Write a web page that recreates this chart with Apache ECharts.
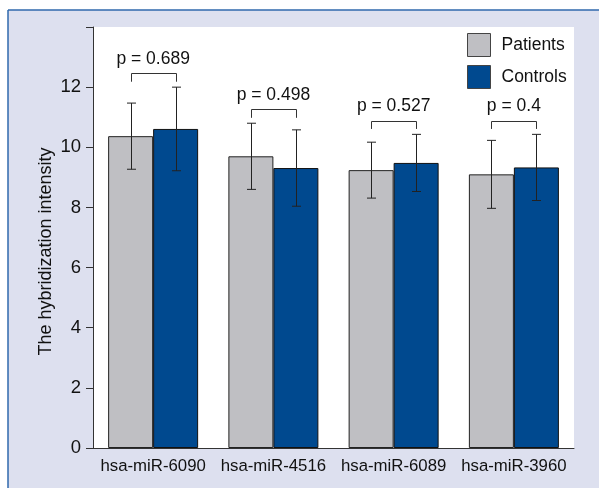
<!DOCTYPE html>
<html>
<head>
<meta charset="utf-8">
<script src="https://cdn.jsdelivr.net/npm/echarts@6/dist/echarts.min.js"></script>
<style>
  html, body { margin: 0; padding: 0; background: #ffffff; }
  #chart { width: 599px; height: 488px; }
</style>
</head>
<body>
<div id="chart"></div>
<script>
// Hybridization intensity of four miRNAs, patients vs controls (mean ± SD)
const categories = ['hsa-miR-6090', 'hsa-miR-4516', 'hsa-miR-6089', 'hsa-miR-3960'];
const patients   = [10.37, 9.70, 9.24, 9.10];
const controls   = [10.61, 9.31, 9.48, 9.33];
const patientsSD = [1.10, 1.10, 0.93, 1.13];
const controlsSD = [1.39, 1.27, 0.95, 1.10];
const pValues    = ['0.689', '0.498', '0.527', '0.4'];
const yTicks     = [0, 2, 4, 6, 8, 10, 12];

const FONT = '"Liberation Sans", Arial, sans-serif';
const GREY = '#bfbfc3';
const BLUE = '#00498f';
const BAR_W = 45;

const chart = echarts.init(document.getElementById('chart'), null, { renderer: 'canvas' });

// error bar with caps, offset to the left (patients) or right (controls) bar
function errorBars(means, sds, side) {
  return {
    type: 'custom',
    silent: true,
    z: 5,
    data: means.map((m, i) => [i, m, sds[i]]),
    renderItem: function (params, api) {
      const i = api.value(0), m = api.value(1), sd = api.value(2);
      const top = api.coord([i, m + sd]);
      const bot = api.coord([i, m - sd]);
      const x = Math.round(top[0] + side * BAR_W / 2) + 0.5;
      const cap = 4.5;
      const style = { stroke: '#222', lineWidth: 1, fill: null };
      return {
        type: 'group',
        children: [
          { type: 'line', shape: { x1: x, y1: top[1], x2: x, y2: bot[1] }, style },
          { type: 'line', shape: { x1: x - cap, y1: top[1], x2: x + cap, y2: top[1] }, style },
          { type: 'line', shape: { x1: x - cap, y1: bot[1], x2: x + cap, y2: bot[1] }, style }
        ]
      };
    }
  };
}

// significance bracket above each pair, with its p value
const bracketSeries = {
  type: 'custom',
  silent: true,
  z: 5,
  data: categories.map((c, i) => [i, Math.max(patients[i] + patientsSD[i], controls[i] + controlsSD[i])]),
  renderItem: function (params, api) {
    const i = api.value(0), peak = api.value(1);
    const h = api.coord([i, peak + 0.46]);
    const d = api.coord([i, peak + 0.18]);
    const xl = Math.round(h[0] - BAR_W / 2) + 0.5, xr = Math.round(h[0] + BAR_W / 2) + 0.5;
    const hy = Math.round(h[1]) + 0.5;
    const style = { stroke: '#333', lineWidth: 1, fill: null };
    return {
      type: 'group',
      children: [
        { type: 'polyline', shape: { points: [[xl, d[1]], [xl, hy], [xr, hy], [xr, d[1]]] }, style },
        {
          type: 'text',
          style: {
            text: 'p = ' + pValues[i],
            x: h[0], y: h[1] - 14,
            align: 'center', verticalAlign: 'middle',
            font: '17.5px ' + FONT, fill: '#111'
          }
        }
      ]
    };
  }
};

const option = {
  backgroundColor: '#ffffff',
  animation: false,
  textStyle: { fontFamily: FONT },
  graphic: [
    { type: 'rect', z: -10, shape: { x: 8, y: 10, width: 591, height: 478 }, style: { fill: '#dde0ef' } },
    { type: 'line', z: -9, shape: { x1: 8, y1: 10, x2: 599, y2: 10 }, style: { stroke: '#2f68ad', lineWidth: 1.5 } },
    { type: 'line', z: -9, shape: { x1: 8, y1: 10, x2: 8, y2: 488 }, style: { stroke: '#2f68ad', lineWidth: 1.5 } }
  ],
  grid: {
    left: 93, right: 25, top: 27, bottom: 40,
    show: true, backgroundColor: '#ffffff', borderWidth: 0
  },
  legend: {
    orient: 'vertical',
    left: 467, top: 33, padding: 0,
    itemWidth: 23, itemHeight: 23, itemGap: 8,
    icon: 'rect',
    textStyle: { fontFamily: FONT, fontSize: 17.5, lineHeight: 23, color: '#111', padding: [0, 0, 0, 6] },
    data: [
      { name: 'Patients', itemStyle: { color: GREY, borderColor: '#444', borderWidth: 1 } },
      { name: 'Controls', itemStyle: { color: BLUE, borderColor: '#444', borderWidth: 1 } }
    ]
  },
  xAxis: {
    type: 'category',
    data: categories,
    axisLine: { lineStyle: { color: '#333', width: 1 } },
    axisTick: { alignWithLabel: true, length: 5, lineStyle: { color: '#333' } },
    axisLabel: { fontFamily: FONT, fontSize: 16.8, color: '#111', margin: 10, interval: 0 }
  },
  yAxis: {
    type: 'value',
    min: 0, max: 14, interval: 2,
    name: 'The hybridization intensity',
    nameLocation: 'middle',
    nameGap: 38,
    nameMoveOverlap: false,
    nameTextStyle: { fontFamily: FONT, fontSize: 18, color: '#111', padding: [0, 28, 0, 0] },
    splitLine: { show: false },
    axisLine: { show: true, lineStyle: { color: '#333', width: 1 } },
    axisTick: { show: true, length: 7, lineStyle: { color: '#333' } },
    axisLabel: {
      fontFamily: FONT, fontSize: 18.5, color: '#111', margin: 12,
      formatter: v => (yTicks.indexOf(v) >= 0 ? String(v) : '')
    }
  },
  series: [
    {
      name: 'Patients', type: 'bar', data: patients,
      barWidth: BAR_W, barGap: '0%',
      itemStyle: { color: GREY, borderColor: '#222', borderWidth: 1 }
    },
    {
      name: 'Controls', type: 'bar', data: controls,
      barWidth: BAR_W, barGap: '0%',
      itemStyle: { color: BLUE, borderColor: '#111', borderWidth: 1 }
    },
    errorBars(patients, patientsSD, -1),
    errorBars(controls, controlsSD, 1),
    bracketSeries
  ]
};

chart.setOption(option);
</script>
</body>
</html>
